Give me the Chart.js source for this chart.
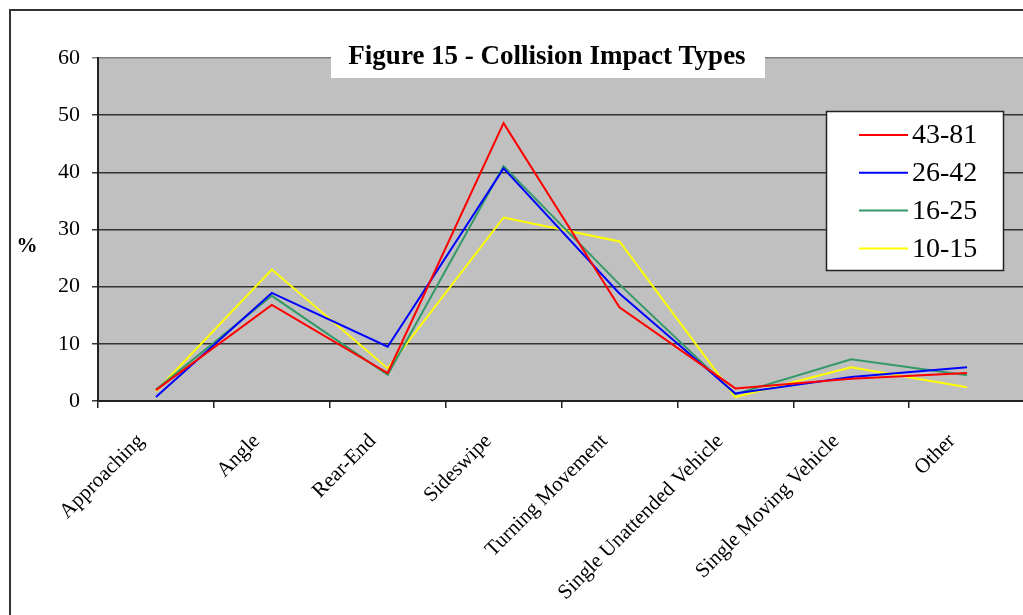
<!DOCTYPE html>
<html lang="en">
<head>
<meta charset="UTF-8">
<title>Figure 15 - Collision Impact Types</title>
<script src="https://cdn.jsdelivr.net/npm/chart.js"></script>
<style>
  html, body { margin: 0; padding: 0; background: #fff; overflow: hidden; }
  .frame { position: absolute; left: 9px; top: 9px; width: 1100px; height: 700px;
           border-left: 2px solid #333; border-top: 2px solid #333; }
  .wrap { position: absolute; left: 0; top: 0; width: 1025px; height: 615px; }
</style>
</head>
<body>
<div class="frame"></div>
<div class="wrap"><canvas id="lineChart"></canvas></div>
<script>
// chart data
const categories = ['Approaching', 'Angle', 'Rear-End', 'Sideswipe', 'Turning Movement',
                    'Single Unattended Vehicle', 'Single Moving Vehicle', 'Other'];
const seriesNames = ['43-81', '26-42', '16-25', '10-15'];
const age4381 = [1.9, 16.8, 4.9, 48.6, 16.4, 2.2, 3.9, 4.9];
const age2642 = [0.7, 18.9, 9.5, 40.7, 18.8, 1.3, 4.2, 5.9];
const age1625 = [2.0, 18.4, 4.6, 41.1, 20.4, 1.2, 7.3, 4.5];
const age1015 = [1.7, 23.0, 5.7, 32.1, 27.9, 0.7, 5.9, 2.4];
const yTicks = [0, 10, 20, 30, 40, 50, 60];
const chartTitle = 'Figure 15 - Collision Impact Types';
const yLabel = '%';

const colors = ['#ff0000', '#0000ff', '#339966', '#ffff00'];
const serif = '"Liberation Serif", "Times New Roman", serif';

// grey plot background
const plotBg = {
    id: 'plotBg',
    beforeDraw(chart) {
        const a = chart.chartArea, c = chart.ctx;
        c.save();
        c.fillStyle = '#c0c0c0';
        c.fillRect(a.left, a.top, a.right - a.left, a.bottom - a.top);
        c.restore();
    }
};

// title box, legend box and the "%" label, drawn over the plot like the original
const overlays = {
    id: 'overlays',
    afterDraw(chart) {
        const c = chart.ctx;
        c.save();
        // title
        c.fillStyle = '#fff';
        c.fillRect(331, 40, 434, 38);
        c.fillStyle = '#000';
        c.font = 'bold 27px ' + serif;
        c.textAlign = 'center';
        c.textBaseline = 'alphabetic';
        c.fillText(chartTitle, 547, 64);

        // y label
        c.textBaseline = 'middle';
        c.font = 'bold 21px ' + serif;
        c.fillText(yLabel, 27, 247);

        // legend
        c.fillStyle = '#fff';
        c.fillRect(826.5, 111.5, 177, 159);
        c.strokeStyle = '#222';
        c.lineWidth = 1.5;
        c.strokeRect(826.5, 111.5, 177, 159);
        c.font = '28px ' + serif;
        c.textAlign = 'left';
        chart.data.datasets.forEach((ds, i) => {
            const y = 135 + i * 37.8;
            c.strokeStyle = ds.borderColor;
            c.lineWidth = 2;
            c.beginPath();
            c.moveTo(859, y);
            c.lineTo(908, y);
            c.stroke();
            c.fillStyle = '#000';
            c.fillText(ds.label, 912, y + 1);
        });
        c.restore();
    }
};

const ctx = document.getElementById('lineChart').getContext('2d');
const data = {
    labels: categories,
    datasets: [age4381, age2642, age1625, age1015].map((vals, i) => ({
        label: seriesNames[i],
        data: vals,
        borderColor: colors[i],
        borderWidth: 2,
        pointRadius: 0,
        tension: 0,
        fill: false
    }))
};

const config = {
    type: 'line',
    data: data,
    options: {
        responsive: true,
        maintainAspectRatio: false,
        animation: false,
        layout: { padding: { top: 58, left: 0, right: 0, bottom: 0 } },
        plugins: {
            legend: { display: false },
            title: { display: false },
            tooltip: { enabled: false }
        },
        scales: {
            x: {
                offset: true,
                grid: { offset: true, drawOnChartArea: false, drawTicks: true, tickLength: 7, color: '#222', lineWidth: 1.5 },
                border: { color: '#222', width: 2 },
                ticks: { color: '#000', font: { family: serif, size: 21 }, minRotation: 45, maxRotation: 45,
                         autoSkip: false, padding: 21, labelOffset: -15 },
                afterFit(scale) { scale.height = 214; }
            },
            y: {
                min: 0,
                max: 60,
                afterBuildTicks(scale) { scale.ticks = yTicks.map(v => ({ value: v })); },
                grid: {
                    color: c => c.tick && c.tick.value === 60 ? '#808080' : '#333',
                    lineWidth: 1.5,
                    tickLength: 6
                },
                border: { color: '#222', width: 2 },
                ticks: { color: '#000', font: { family: serif, size: 22 }, padding: 12 },
                afterFit(scale) { scale.width = 98; }
            }
        }
    },
    plugins: [plotBg, overlays]
};

const lineChart = new Chart(ctx, config);
</script>
</body>
</html>
